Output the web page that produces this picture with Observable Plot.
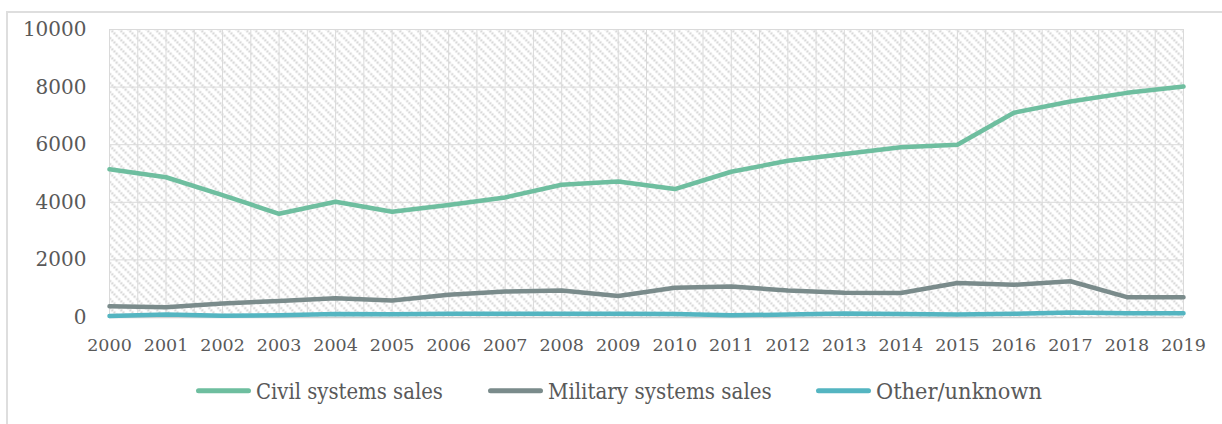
<!DOCTYPE html>
<html>
<head>
<meta charset="utf-8">
<script src="https://cdn.jsdelivr.net/npm/d3@7"></script>
<script src="https://cdn.jsdelivr.net/npm/@observablehq/plot@0.6"></script>
<style>
  html, body { margin: 0; padding: 0; background: #fff; width: 1222px; height: 424px; overflow: hidden; }
  #frame { position: absolute; left: 6px; top: 11px; width: 1240px; height: 440px; border: 2px solid #dedede; box-sizing: border-box; }
  #chart { position: absolute; left: 0; top: 0; }
  #legend { position: absolute; left: 0; top: 360px; }
  #chart svg { overflow: visible; }
  #chart [aria-label^="y-axis"] text { font-size: 20px; }
  #chart [aria-label^="x-axis"] text { font-size: 17.5px; }
</style>
</head>
<body>
<div id="frame"></div>
<div id="chart"></div>
<div id="legend"></div>
<script>
const years = [2000, 2001, 2002, 2003, 2004, 2005, 2006, 2007, 2008, 2009, 2010, 2011, 2012, 2013, 2014, 2015, 2016, 2017, 2018, 2019];
const civilSales = [5150, 4870, 4250, 3600, 4020, 3670, 3910, 4170, 4610, 4720, 4460, 5060, 5440, 5680, 5910, 6000, 7110, 7500, 7800, 8020];
const militarySales = [390, 360, 490, 570, 670, 590, 790, 900, 940, 750, 1030, 1075, 940, 860, 850, 1200, 1135, 1260, 705, 705];
const otherUnknown = [50, 100, 60, 80, 120, 110, 130, 130, 130, 130, 120, 80, 100, 140, 120, 100, 130, 170, 150, 150];
const seriesNames = ["Civil systems sales", "Military systems sales", "Other/unknown"];
const seriesColors = ["#6ebe9f", "#7a8b8b", "#54b5c1"];
const yTicks = [0, 2000, 4000, 6000, 8000, 10000];

const seriesValues = [civilSales, militarySales, otherUnknown];
const data = [];
seriesNames.forEach((name, i) => {
  years.forEach((yr, j) => data.push({ series: name, year: yr, value: seriesValues[i][j] }));
});
const halfYears = d3.range(years[0], years[years.length - 1] + 0.01, 0.5);

const textColor = "#595959";
const gridColor = "#dadada";

const plot = Plot.plot({
  width: 1222,
  height: 350,
  marginLeft: 109,
  marginRight: 39,
  marginTop: 29,
  marginBottom: 33,
  style: { fontFamily: "'DejaVu Serif', serif", color: textColor, background: "transparent" },
  x: { type: "linear", domain: [years[0], years[years.length - 1]], ticks: years, tickFormat: d => String(d), tickSize: 0, tickPadding: 21, label: null },
  y: { domain: [0, 10000], ticks: yTicks, tickFormat: d => String(d), tickSize: 0, tickPadding: 23, label: null },
  color: { domain: seriesNames, range: seriesColors },
  marks: [
    Plot.frame({ fill: "url(#hatch)", stroke: "none" }),
    Plot.ruleY(yTicks, { stroke: gridColor, strokeWidth: 1 }),
    Plot.ruleX(halfYears, { stroke: gridColor, strokeWidth: 1 }),
    Plot.ruleY([0], { stroke: "#d0d0d0", strokeWidth: 1.5 }),
    Plot.line(data, { x: "year", y: "value", z: "series", stroke: "series", strokeWidth: 4.5, strokeLinejoin: "round", strokeLinecap: "round" })
  ]
});

// hatch pattern defs
const defs = d3.select(plot).insert("defs", ":first-child");
const pat = defs.append("pattern")
  .attr("id", "hatch").attr("patternUnits", "userSpaceOnUse")
  .attr("width", 9).attr("height", 9);
pat.append("rect").attr("width", 9).attr("height", 9).attr("fill", "#ffffff");
pat.append("path")
  .attr("d", "M-1,-1 L10,10 M-5.5,3.5 L5.5,14.5 M3.5,-5.5 L14.5,5.5")
  .attr("stroke", "#cccccc").attr("stroke-width", 2.2)
  .attr("stroke-dasharray", "1.6 1.4").attr("fill", "none");
document.getElementById("chart").appendChild(plot);

// legend
const legendLayout = [
  { x: 196, textLen: 187 },
  { x: 488, textLen: 224 },
  { x: 816, textLen: 166 }
];
const lg = d3.select("#legend").append("svg").attr("width", 1222).attr("height", 60);
seriesNames.forEach((name, i) => {
  const L = legendLayout[i];
  lg.append("line").attr("x1", L.x + 2.5).attr("x2", L.x + 52.5).attr("y1", 30.7).attr("y2", 30.7)
    .attr("stroke", seriesColors[i]).attr("stroke-width", 5).attr("stroke-linecap", "round");
  const g = lg.append("g").attr("transform", `translate(${L.x + 60},38.5)`);
  const t = g.append("text")
    .attr("font-family", "'DejaVu Serif', serif").attr("font-size", 22).attr("fill", textColor)
    .text(name);
  const natural = t.node().getComputedTextLength();
  t.attr("transform", `scale(${L.textLen / natural},1)`);
});
</script>
</body>
</html>
